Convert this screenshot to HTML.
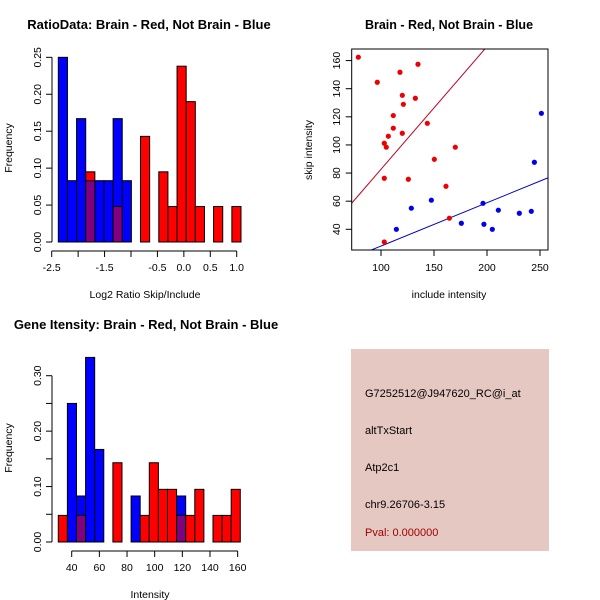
<!DOCTYPE html>
<html><head><meta charset="utf-8"><style>
body{margin:0;background:#fff}
svg{display:block;font-family:"Liberation Sans",sans-serif}
</style></head><body>
<svg id="s" width="600" height="600" xmlns="http://www.w3.org/2000/svg">
<rect width="600" height="600" fill="#fff"/>
<text x="149" y="29" font-size="13" font-weight="bold" text-anchor="middle">RatioData: Brain - Red, Not Brain - Blue</text>
<text x="449" y="29" font-size="12.5" font-weight="bold" text-anchor="middle">Brain - Red, Not Brain - Blue</text>
<text x="146" y="329" font-size="13" font-weight="bold" text-anchor="middle">Gene Itensity: Brain - Red, Not Brain - Blue</text>
<text x="145" y="298" font-size="10.5" text-anchor="middle">Log2 Ratio Skip/Include</text>
<text transform="translate(12,148) rotate(-90)" font-size="10.5" text-anchor="middle">Frequency</text>
<text x="449" y="298" font-size="10.5" text-anchor="middle">include intensity</text>
<text transform="translate(312,150) rotate(-90)" font-size="10.5" text-anchor="middle">skip intensity</text>
<text x="150" y="598" font-size="10.5" text-anchor="middle">Intensity</text>
<text transform="translate(12,448) rotate(-90)" font-size="10.5" text-anchor="middle">Frequency</text>
<g>
<rect x="351" y="349" width="198" height="202" fill="#e6c8c2"/>
<text x="365" y="397" font-size="11">G7252512@J947620_RC@i_at</text>
<text x="365" y="434" font-size="11">altTxStart</text>
<text x="365" y="471" font-size="11">Atp2c1</text>
<text x="365" y="508" font-size="11">chr9.26706-3.15</text>
<text x="365" y="536" font-size="11" fill="#a00000">Pval: 0.000000</text>
</g>
</svg>
<script>
// Ratio histogram data
const ratioBinStart=-2.375, ratioBinWidth=0.1728;
const ratioBlue=[0.25,0.083,0.167,0.083,0.083,0.083,0.167,0.083,0,0,0,0,0,0,0,0,0,0,0,0];
const ratioRed=[0,0,0,0.095,0,0,0.048,0,0,0.143,0,0.095,0.048,0.238,0.190,0.048,0,0.048,0,0.048];
const ratioXTicks=[-2.5,-2,-1.5,-1,-0.5,0,0.5,1];
const ratioXLabels=["-2.5","","-1.5","","-0.5","0.0","0.5","1.0"];
const ratioYTicks=[0,0.05,0.10,0.15,0.20,0.25];
const ratioYLabels=["0.00","0.05","0.10","0.15","0.20","0.25"];
// Intensity histogram data
const intBinStart=30.3, intBinWidth=6.58;
const intBlue=[0,0.25,0.083,0.333,0.167,0,0,0,0.083,0,0,0,0,0.083,0,0,0,0,0,0];
const intRed=[0.048,0,0.048,0,0,0,0.143,0,0,0.048,0.143,0.095,0.095,0.048,0.048,0.095,0,0.048,0.048,0.095];
const intXTicks=[40,60,80,100,120,140,160];
const intYTicks=[0,0.05,0.10,0.15,0.20,0.25,0.30];
const intYLabels=["0.00","","0.10","","0.20","","0.30"];
// Scatter data
const redX=[78.6,96.5,117.9,134.9,120.1,132.4,121.1,111.6,111.6,120.1,106.9,143.7,103.1,105.0,170.1,150.3,103.1,125.8,161.3,164.5,103.1];
const redY=[162.4,144.6,151.7,157.4,135.3,133.2,128.9,120.9,111.9,108.3,106.2,115.4,101.2,98.4,98.4,89.8,76.3,75.6,70.6,47.9,31.0];
const blueX=[251.3,244.7,147.5,128.6,196.2,210.7,230.5,241.8,175.8,197.1,205.0,114.5];
const blueY=[122.5,87.7,60.7,55.0,58.5,53.6,51.4,52.8,44.3,43.6,40.0,40.0];
const redFit=[-4.6,0.873];
const blueFit=[-2.7,0.308];
const scXTicks=[100,150,200,250];
const scYTicks=[40,60,80,100,120,140,160];

const svg=document.getElementById('s');
const NS='http://www.w3.org/2000/svg';
function mk(tag,attrs,parent){const e=document.createElementNS(NS,tag);for(const k in attrs)e.setAttribute(k,attrs[k]);(parent||svg).appendChild(e);return e;}

function hist(prefix,bs,bw,blue,red,xs,ys,xT,xL,yT,yL,axY,yAxX){
  const g=mk('g',{});
  
  
  for(let i=0;i<blue.length;i++){
    const x0=xs(bs+i*bw), x1=xs(bs+(i+1)*bw);
    const b=blue[i], r=red[i];
    const draw=(v,c,nm)=>{if(v<=0)return;const el=mk('rect',{x:x0,y:ys(v),width:x1-x0,height:ys(0)-ys(v),fill:c,stroke:'#000','stroke-width':1},g);
      
      };
    if(b>=r){draw(b,'#0000ff','bar-blue-'+i);draw(Math.min(b,r),'#800080','bar-overlap-'+i);}
    else{draw(r,'#ff0000','bar-red-'+i);draw(Math.min(b,r),'#800080','bar-overlap-'+i);}
  }
  const xa=mk('g',{});
  
  
  mk('line',{x1:xs(xT[0]),x2:xs(xT[xT.length-1]),y1:axY,y2:axY,stroke:'#000'},xa);
  xT.forEach((t,i)=>{mk('line',{x1:xs(t),x2:xs(t),y1:axY,y2:axY+6,stroke:'#000'},xa);
    const tx=mk('text',{x:xs(t),y:axY+20,'font-size':10.5,'text-anchor':'middle'},xa);tx.textContent=xL[i];});
  const ya=mk('g',{});
  
  
  mk('line',{x1:yAxX,x2:yAxX,y1:ys(yT[0]),y2:ys(yT[yT.length-1]),stroke:'#000'},ya);
  yT.forEach((t,i)=>{mk('line',{x1:yAxX-6,x2:yAxX,y1:ys(t),y2:ys(t),stroke:'#000'},ya);
    const tx=mk('text',{transform:`translate(${yAxX-11},${ys(t)}) rotate(-90)`,'font-size':10.5,'text-anchor':'middle'},ya);tx.textContent=yL[i];});
}
hist('ratio',ratioBinStart,ratioBinWidth,ratioBlue,ratioRed,
  v=>51.7+(v+2.5)*52.86, v=>242-v*738.7, ratioXTicks,ratioXLabels,ratioYTicks,ratioYLabels,251,52);
hist('intensity',intBinStart,intBinWidth,intBlue,intRed,
  v=>71.7+(v-40)*1.383, v=>542-v*554.3, intXTicks,intXTicks.map(String),intYTicks,intYLabels,551,52);

// scatter
const sx=v=>381+(v-100)*1.06, sy=v=>229.3-(v-40)*1.406;
const sg=mk('g',{});


mk('clipPath',{id:'clip'},sg);
mk('rect',{x:351.7,y:49,width:196.3,height:201},document.getElementById('clip'));
const fits=[[redFit,'#c00020','red-fit-line'],[blueFit,'#0000c0','blue-fit-line']];
fits.forEach(([f,c,n])=>{const l=mk('line',{x1:sx(60),y1:sy(f[0]+f[1]*60),x2:sx(270),y2:sy(f[0]+f[1]*270),stroke:c,'stroke-width':1,'clip-path':'url(#clip)'},sg);
  
  });
redX.forEach((x,i)=>{const p=mk('circle',{cx:sx(x),cy:sy(redY[i]),r:2.6,fill:'#ee0000'},sg);
  
  });
blueX.forEach((x,i)=>{const p=mk('circle',{cx:sx(x),cy:sy(blueY[i]),r:2.6,fill:'#0000ee'},sg);
  
  });
const box=mk('rect',{x:351.7,y:49,width:196.3,height:201,fill:'none',stroke:'#000'},sg);


scXTicks.forEach(t=>{mk('line',{x1:sx(t),x2:sx(t),y1:250,y2:256,stroke:'#000'},sg);
  const tx=mk('text',{x:sx(t),y:271,'font-size':10.5,'text-anchor':'middle'},sg);tx.textContent=t;
  
  });
scYTicks.forEach(t=>{mk('line',{x1:345.7,x2:351.7,y1:sy(t),y2:sy(t),stroke:'#000'},sg);
  const tx=mk('text',{transform:`translate(340,${sy(t)}) rotate(-90)`,'font-size':10.5,'text-anchor':'middle'},sg);tx.textContent=t;
  
  });
</script>
</body></html>
